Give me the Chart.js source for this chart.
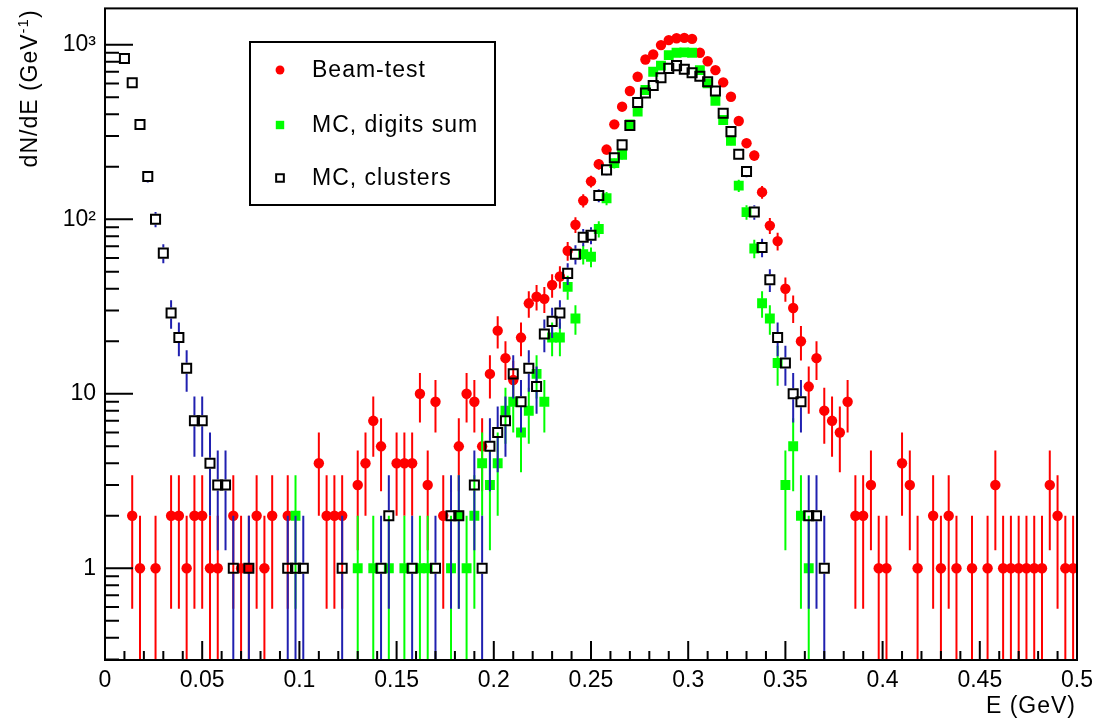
<!DOCTYPE html>
<html>
<head>
<meta charset="utf-8">
<title>dN/dE</title>
<script src="https://cdn.jsdelivr.net/npm/chart.js@4.4.1/dist/chart.umd.min.js"></script>
<style>
  html, body { margin: 0; padding: 0; background: #fff; }
  #wrap { width: 1096px; height: 721px; }
</style>
</head>
<body>
<div id="wrap"><canvas id="c" width="1096" height="721"></canvas></div>
<script>
// bin centres (GeV) and bin contents; empty bins are left out
const beamE = [0.014,0.018,0.026,0.034,0.038,0.042,0.046,0.050,0.054,0.058,0.066,0.070,0.074,0.078,0.082,0.086,0.094,
  0.110,0.114,0.118,0.122,0.130,0.134,0.138,0.142,0.150,0.154,0.158,0.162,0.166,0.170,0.174,
  0.182,0.186,0.190,0.194,0.198,0.202,0.206,0.210,0.214,0.218,0.222,0.226,0.230,0.234,0.238,0.242,0.246,0.250,
  0.254,0.258,0.262,0.266,0.270,0.274,0.278,0.282,0.286,0.290,0.294,0.298,0.302,0.306,0.310,0.314,0.318,0.322,
  0.326,0.330,0.334,0.338,0.342,0.346,0.350,0.354,0.358,0.362,0.366,0.370,0.374,0.378,0.382,0.386,0.390,0.394,
  0.398,0.402,0.410,0.414,0.418,0.426,0.430,0.434,0.438,0.446,0.454,0.458,0.462,0.466,0.470,0.474,0.478,0.482,
  0.486,0.490,0.494,0.498];
const beamN = [2,1,1,2,2,1,2,2,1,1,2,1,1,2,1,2,2,
  4,2,2,2,3,4,7,5,4,4,4,10,3,9,2,
  5,10,9,5,13,23,16,12,21,33,36,35,42,47,66,93,128,165,
  207,251,350,442,544,656,824,880,996,1064,1090,1096,1082,900,805,716,609,504,
  366,273,232,143,92,75,40,31,20,11,16,8,7,6,9,2,2,3,
  1,1,4,3,1,2,1,2,1,1,1,3,1,1,1,1,1,1,
  3,2,1,1];

const digiE = [0.098,0.130,0.138,0.146,0.154,0.162,0.166,0.178,0.182,0.186,0.190,
  0.194,0.198,0.202,0.206,0.210,0.214,0.218,0.222,0.226,0.230,0.234,0.238,0.242,0.246,0.250,
  0.254,0.258,0.262,0.266,0.270,0.274,0.278,0.282,0.286,0.290,0.294,0.298,0.302,0.306,0.310,0.314,0.318,0.322,
  0.326,0.330,0.334,0.338,0.342,0.346,0.350,0.354,0.358,0.362];
const digiN = [2,1,1,1,1,1,1,1,2,1,2,
  4,3,4,8,9,6,8,13,9,21,21,41,27,63,61,
  88,132,210,234,350,414,551,701,760,873,900,905,900,716,601,477,371,282,
  156,110,68,33,27,15,3,5,2,1];

const clusE = [0.010,0.014,0.018,0.022,0.026,0.030,0.034,0.038,0.042,0.046,0.050,0.054,0.058,0.062,0.066,0.074,
  0.094,0.098,0.102,0.122,0.142,0.146,0.158,0.170,0.178,0.182,0.190,0.194,
  0.198,0.202,0.206,0.210,0.214,0.218,0.222,0.226,0.230,0.234,0.238,0.242,0.246,0.250,
  0.254,0.258,0.262,0.266,0.270,0.274,0.278,0.282,0.286,0.290,0.294,0.298,0.302,0.306,0.310,0.314,0.318,0.322,
  0.326,0.330,0.334,0.338,0.342,0.346,0.350,0.354,0.358,0.362,0.366,0.370];
const clusN = [835,606,349,176,100,64,29,21,14,7,7,4,3,3,1,1,
  1,1,1,1,1,2,1,1,2,2,3,1,
  5,6,7,13,9,14,11,22,26,29,49,63,79,81,
  137,192,225,267,345,467,530,584,648,733,760,725,692,660,615,544,405,318,
  236,188,110,69,45,21,15,10,9,2,2,1];

const xTickVals = [0, 0.05, 0.1, 0.15, 0.2, 0.25, 0.3, 0.35, 0.4, 0.45, 0.5];
const xTickLabels = ['0','0.05','0.1','0.15','0.2','0.25','0.3','0.35','0.4','0.45','0.5'];
const yTickVals = [1, 10, 100, 1000];
const yTickLabels = ['1', '10', '10²', '10³'];

const binWidth = 0.004;
const FONT = "'Liberation Sans', Arial, Helvetica, sans-serif";

const toPts = (E, N) => E.map((e, i) => ({x: e, y: N[i]}));

// poisson error bars (sqrt N) and half-bin x bars, drawn under each dataset's markers,
// left open where the marker sits (as ROOT does)
const errorBars = {
  id: 'errorBars',
  beforeDatasetDraw(chart, args) {
    const ds = chart.data.datasets[args.index];
    const meta = args.meta;
    const gap = ds.errGap;
    const {ctx, chartArea: a, scales: {x, y}} = chart;
    ctx.save();
    ctx.beginPath();
    ctx.rect(a.left, a.top, a.right - a.left, a.bottom - a.top);
    ctx.clip();
    ctx.strokeStyle = ds.errColor;
    ctx.lineWidth = 2;
    ctx.beginPath();
    ds.data.forEach((p, i) => {
      const el = meta.data[i];
      const err = Math.sqrt(p.y);
      const lo = (p.y - err) > y.min ? y.getPixelForValue(p.y - err) : a.bottom + 2;
      const hi = y.getPixelForValue(p.y + err);
      if (lo > el.y + gap) { ctx.moveTo(el.x, lo); ctx.lineTo(el.x, el.y + gap); }
      if (hi < el.y - gap) { ctx.moveTo(el.x, el.y - gap); ctx.lineTo(el.x, hi); }
      const xl = x.getPixelForValue(p.x - binWidth / 2), xr = x.getPixelForValue(p.x + binWidth / 2);
      if (xl < el.x - gap) { ctx.moveTo(xl, el.y); ctx.lineTo(el.x - gap, el.y); }
      if (xr > el.x + gap) { ctx.moveTo(el.x + gap, el.y); ctx.lineTo(xr, el.y); }
    });
    ctx.stroke();
    ctx.restore();
  }
};

// ROOT style frame, inward ticks, axis titles and legend
const frame = {
  id: 'frame',
  afterDraw(chart) {
    const {ctx, chartArea: a, scales: {x, y}} = chart;
    ctx.save();
    ctx.strokeStyle = '#000';
    ctx.lineWidth = 2;
    ctx.strokeRect(a.left, a.top, a.right - a.left, a.bottom - a.top);

    ctx.beginPath();
    for (let i = 0; i <= 50; i++) {
      const px = x.getPixelForValue(i * 0.01);
      const len = i % 5 === 0 ? 19 : 9;
      ctx.moveTo(px, a.bottom);
      ctx.lineTo(px, a.bottom - len);
    }
    for (let e = -1; e <= 3; e++) {
      for (let m = 1; m <= 9; m++) {
        const v = m * Math.pow(10, e);
        if (v < y.min || v > y.max) continue;
        const py = y.getPixelForValue(v);
        ctx.moveTo(a.left, py);
        ctx.lineTo(a.left + (m === 1 ? 28 : 14), py);
      }
    }
    ctx.stroke();

    ctx.fillStyle = '#000';
    ctx.letterSpacing = '1px';
    ctx.font = '23px ' + FONT;
    ctx.textAlign = 'right';
    ctx.textBaseline = 'alphabetic';
    ctx.fillText('E (GeV)', a.right - 1, 713);

    // y title, rotated, ending at the top of the frame
    ctx.translate(37, a.top);
    ctx.rotate(-Math.PI / 2);
    ctx.textAlign = 'left';
    const main = 'dN/dE (GeV', sup = '-1', tail = ')';
    ctx.font = '23px ' + FONT;
    const wMain = ctx.measureText(main).width, wTail = ctx.measureText(tail).width;
    ctx.font = '15px ' + FONT;
    const wSup = ctx.measureText(sup).width;
    let cx = -(wMain + wSup + wTail + 1);
    ctx.font = '23px ' + FONT;
    ctx.fillText(main, cx, 0);
    cx += wMain;
    ctx.font = '15px ' + FONT;
    ctx.fillText(sup, cx, -9);
    cx += wSup;
    ctx.font = '23px ' + FONT;
    ctx.fillText(tail, cx, 0);
    ctx.restore();

    // legend
    ctx.save();
    ctx.strokeStyle = '#000';
    ctx.lineWidth = 2;
    ctx.strokeRect(250, 42, 245, 163);
    ctx.font = '23px ' + FONT;
    ctx.letterSpacing = '1px';
    ctx.textBaseline = 'middle';
    const rows = [70, 125, 178];
    chart.data.datasets.forEach((ds, i) => {
      ctx.fillStyle = ds.pointBackgroundColor;
      ctx.strokeStyle = ds.pointBorderColor;
      ctx.lineWidth = ds.pointBorderWidth;
      Chart.helpers.drawPoint(ctx, {pointStyle: ds.pointStyle, radius: ds.pointRadius * 0.85, borderWidth: ds.pointBorderWidth, rotation: 0}, 280, rows[i]);
      ctx.fillStyle = '#000';
      ctx.fillText(ds.label, 312, rows[i] + 1);
    });
    ctx.restore();
  }
};

new Chart(document.getElementById('c'), {
  type: 'scatter',
  data: {
    datasets: [
      {label: 'Beam-test', data: toPts(beamE, beamN), order: 3, errColor: '#ff0000', errGap: 3,
        pointStyle: 'circle', pointRadius: 5.2, pointBackgroundColor: '#ff0000', pointBorderColor: '#ff0000', pointBorderWidth: 0},
      {label: 'MC, digits sum', data: toPts(digiE, digiN), order: 2, errColor: '#00ff00', errGap: 4.5,
        pointStyle: 'rect', pointRadius: 7, pointBackgroundColor: '#00ff00', pointBorderColor: '#00ff00', pointBorderWidth: 0},
      {label: 'MC, clusters', data: toPts(clusE, clusN), order: 1, errColor: '#2020b0', errGap: 5.5,
        pointStyle: 'rect', pointRadius: 6.4, pointBackgroundColor: 'rgba(0,0,0,0)', pointBorderColor: '#000', pointBorderWidth: 2}
    ]
  },
  options: {
    responsive: false,
    devicePixelRatio: 1,
    animation: false,
    events: [],
    layout: {padding: {left: 0, right: 19, top: 7, bottom: 0}},
    plugins: {legend: {display: false}, tooltip: {enabled: false}},
    scales: {
      x: {
        type: 'linear', min: 0, max: 0.5,
        afterBuildTicks: s => { s.ticks = xTickVals.map(v => ({value: v})); },
        ticks: {callback: (v, i) => xTickLabels[i], font: {size: 23, family: FONT}, color: '#000', padding: 7, maxRotation: 0, autoSkip: false},
        grid: {display: false, drawTicks: false},
        border: {display: false},
        afterFit: s => { s.height = 61; s.paddingLeft = 0; s.paddingRight = 0; }
      },
      y: {
        type: 'logarithmic', min: 0.298, max: 1617, bounds: 'data',
        afterBuildTicks: s => { s.ticks = yTickVals.map(v => ({value: v, major: true})); },
        ticks: {callback: (v, i) => yTickLabels[i], font: {size: 23, family: FONT}, color: '#000', padding: 9, autoSkip: false},
        grid: {display: false, drawTicks: false},
        border: {display: false},
        afterFit: s => { s.width = 105; s.paddingTop = 0; s.paddingBottom = 0; }
      }
    }
  },
  plugins: [errorBars, frame]
});
</script>
</body>
</html>
